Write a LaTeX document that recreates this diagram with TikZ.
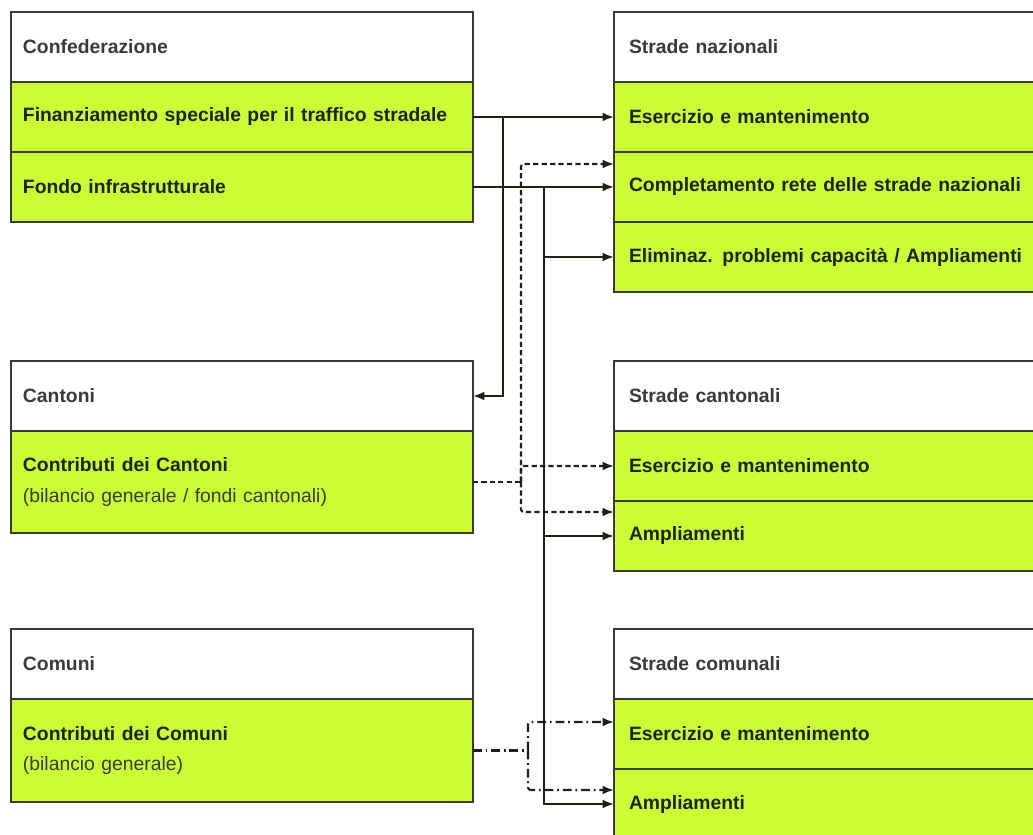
\documentclass[tikz,border=0pt]{standalone}
\usepackage{fontspec}
\setmainfont{Liberation Sans}
\usetikzlibrary{arrows.meta}
\definecolor{cashgreen}{RGB}{204,255,51}
\definecolor{rim}{RGB}{58,58,58}
\definecolor{ink}{RGB}{30,34,20}
\tikzstyle{row}=[draw=rim, line width=1.2pt, anchor=north west, outer sep=0pt, inner xsep=0.24cm, inner ysep=0pt, align=left, minimum height=1.4cm, font=\fontsize{11}{17.5}\selectfont\bfseries, text=ink]
\tikzstyle{lrow}=[row, text width=8.76cm]
\tikzstyle{rrow}=[row, text width=8.4cm, inner xsep=0.3cm]
\tikzstyle{head}=[fill=white, text=rim]
\tikzstyle{fund}=[fill=cashgreen]
\tikzstyle{flow}=[line width=1.2pt, draw=ink, -{Latex[length=6.5pt,width=5pt]}]
\tikzstyle{cantflow}=[flow, dash pattern=on 3pt off 1.8pt]
\tikzstyle{comflow}=[flow, dash pattern=on 5pt off 2.2pt on 1pt off 2.2pt]
\begin{document}
\begin{tikzpicture}[x=0.02cm, y=-0.02cm]
    \useasboundingbox (0,0) rectangle (1033,834);
    \clip (0,0) rectangle (1033,834);
    % sources
    \node[lrow, head] (conf) at (11,12) {Confederazione};
    \node[lrow, fund] (fin) at (11,82) {Finanziamento speciale per il traffico stradale};
    \node[lrow, fund] (fondo) at (11,152) {Fondo infrastrutturale};
    \node[lrow, head] (cant) at (11,361) {Cantoni};
    \node[lrow, fund, minimum height=2.04cm] (cantfin) at (11,431)
      {Contributi dei Cantoni\\{\mdseries\color{rim}(bilancio generale / fondi cantonali)}};
    \node[lrow, head] (com) at (11,629) {Comuni};
    \node[lrow, fund, minimum height=2.06cm] (comfin) at (11,699)
      {Contributi dei Comuni\\{\mdseries\color{rim}(bilancio generale)}};
    % targets
    \node[rrow, head] (naz) at (614,12) {Strade nazionali};
    \node[rrow, fund] (nazes) at (614,82) {Esercizio e mantenimento};
    \node[rrow, fund] (nazco) at (614,152) {Completamento rete delle strade nazionali};
    \node[rrow, fund] (nazel) at (614,222) {Eliminaz. problemi capacità / Ampliamenti};
    \node[rrow, head] (cst) at (614,361) {Strade cantonali};
    \node[rrow, fund] (cstes) at (614,431) {Esercizio e mantenimento};
    \node[rrow, fund] (cstam) at (614,501) {Ampliamenti};
    \node[rrow, head] (kst) at (614,629) {Strade comunali};
    \node[rrow, fund] (kstes) at (614,699) {Esercizio e mantenimento};
    \node[rrow, fund] (kstam) at (614,769) {Ampliamenti};
    % trunks
    \coordinate (tfin) at (503,0);
    \coordinate (tcant) at (521,0);
    \coordinate (tcom) at (528,0);
    \coordinate (tfondo) at (544,0);
    \foreach \from/\to in {fin/nazes, fondo/nazco}
      \draw[flow] (\from) -- (\to);
    \draw[flow] (tfin |- fin.east) |- (cant.east);
    \foreach \to in {nazel, cstam, kstam}
      \draw[flow] (tfondo |- fondo.east) |- (\to.west);
    \draw[cantflow, -] (cantfin.east) -- (tcant |- cantfin.east);
    \foreach \to/\dy in {nazco/0.46cm, cstes/0cm, cstam/0.48cm}
      \draw[cantflow, rounded corners=1.5pt] (tcant |- cantfin.east) |- ([yshift=\dy]\to.west);
    \draw[comflow, -] (comfin.east) -- (tcom |- comfin.east);
    \foreach \to/\dy in {kstes/0.24cm, kstam/0.28cm}
      \draw[comflow, rounded corners=1.5pt] (tcom |- comfin.east) |- ([yshift=\dy]\to.west);
\end{tikzpicture}
\end{document}
